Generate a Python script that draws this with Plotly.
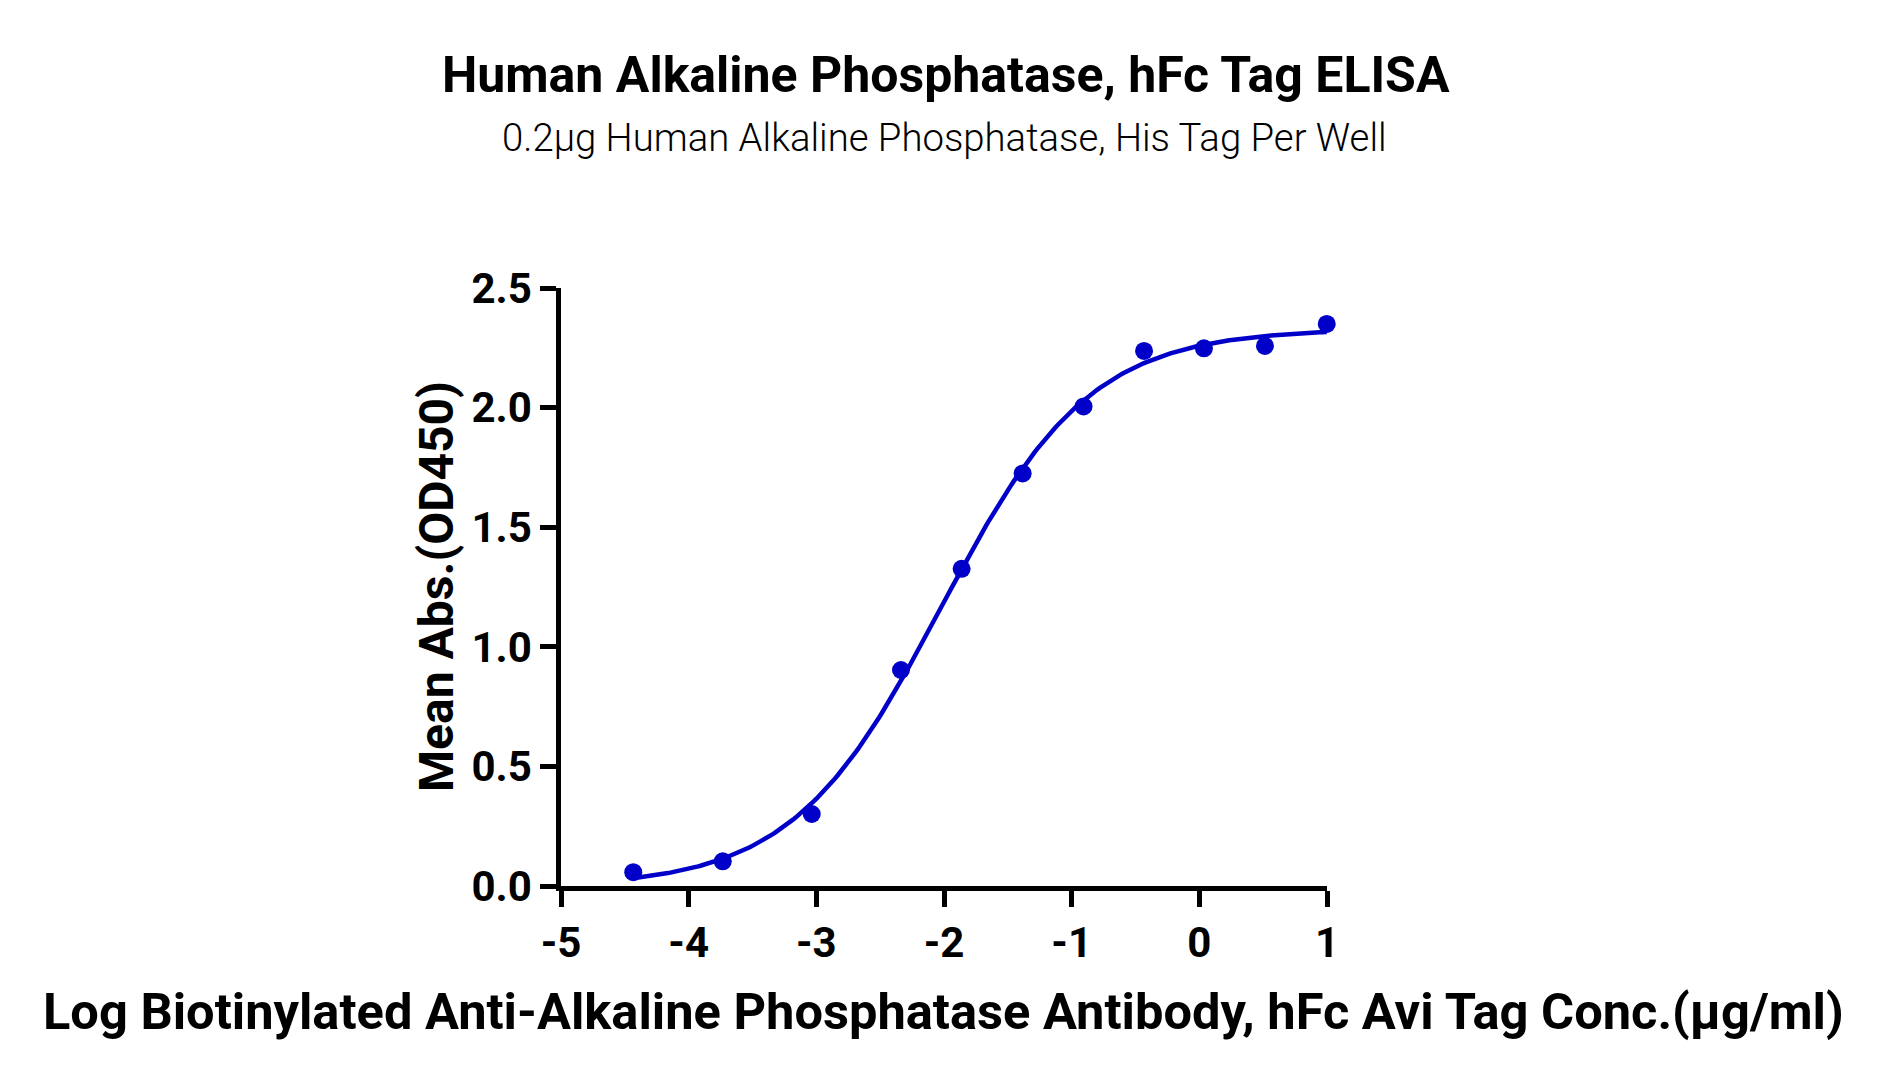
import numpy as np
import plotly.graph_objects as go

# Log concentration (ug/ml) and mean absorbance
log_conc = [-4.434, -3.733, -3.036, -2.337, -1.862, -1.384, -0.907, -0.433, 0.036, 0.514, 0.998]
mean_abs = [0.058, 0.103, 0.301, 0.903, 1.326, 1.725, 2.005, 2.237, 2.248, 2.258, 2.350]

x_ticks = [-5, -4, -3, -2, -1, 0, 1]
x_tick_labels = ["-5", "-4", "-3", "-2", "-1", "0", "1"]
y_ticks = [0.0, 0.5, 1.0, 1.5, 2.0, 2.5]

title = "Human Alkaline Phosphatase, hFc Tag ELISA"
subtitle = "0.2µg Human Alkaline Phosphatase, His Tag Per Well"
x_title = "Log Biotinylated Anti-Alkaline Phosphatase Antibody, hFc Avi Tag Conc.(µg/ml)"
y_title = "Mean Abs.(OD450)"

blue = "#0000C8"

# 4PL fit of the points (grid over EC50 / hill, linear solve for bottom / top)
xd = np.array(log_conc)
yd = np.array(mean_abs)
best = None
for ec in np.arange(-3.0, -1.0, 0.005):
    for h in np.arange(0.4, 1.6, 0.005):
        s = 1.0 / (1.0 + 10 ** ((ec - xd) * h))
        A = np.column_stack([1 - s, s])
        coef, *_ = np.linalg.lstsq(A, yd, rcond=None)
        err = np.sum((A @ coef - yd) ** 2)
        if best is None or err < best[0]:
            best = (err, ec, h, coef)
_, ec50, hill, (bottom, top) = best
xf = np.linspace(xd.min(), xd.max(), 300)
yf = bottom + (top - bottom) / (1.0 + 10 ** ((ec50 - xf) * hill))

fig = go.Figure()
fig.add_trace(go.Scatter(x=xf, y=yf, mode="lines",
                         line=dict(color=blue, width=4.5), hoverinfo="skip",
                         showlegend=False, cliponaxis=False))
fig.add_trace(go.Scatter(x=log_conc, y=mean_abs, mode="markers",
                         marker=dict(color=blue, size=18),
                         showlegend=False, cliponaxis=False))

bold = dict(family="Roboto", color="black", weight="bold")

fig.update_layout(
    width=1887, height=1087,
    paper_bgcolor="white", plot_bgcolor="white",
    margin=dict(l=553, r=568, t=280, b=209),
    xaxis=dict(range=[-5, 1], tickvals=x_ticks, ticktext=x_tick_labels, showline=True,
               linecolor="black", linewidth=4.5, ticks="outside", ticklen=16, tickwidth=4.5,
               tickcolor="black", showgrid=False, zeroline=False,
               tickfont=dict(size=42, **bold)),
    yaxis=dict(range=[0, 2.5], tickvals=y_ticks, tickformat=".1f", showline=True,
               linecolor="black", linewidth=4.5, ticks="outside", ticklen=16, tickwidth=4.5,
               tickcolor="black", showgrid=False, zeroline=False,
               tickfont=dict(size=42, **bold)),
    annotations=[
        dict(text=title, x=0.5025, y=1.356, xref="paper", yref="paper", showarrow=False,
             xanchor="center", yanchor="middle", font=dict(size=50, **bold)),
        dict(text=subtitle, x=0.501, y=1.2516, xref="paper", yref="paper", showarrow=False,
             xanchor="center", yanchor="middle",
             font=dict(family="Roboto", size=38.3, color="black", weight=300)),
        dict(text=x_title, x=0.4993, y=-0.2092, xref="paper", yref="paper", showarrow=False,
             xanchor="center", yanchor="middle", font=dict(size=50.6, **bold)),
        dict(text=y_title, x=-0.1619, y=0.5018, xref="paper", yref="paper", showarrow=False,
             xanchor="center", yanchor="middle", textangle=-90, font=dict(size=48, **bold)),
    ],
)

fig.write_html("out.html")
